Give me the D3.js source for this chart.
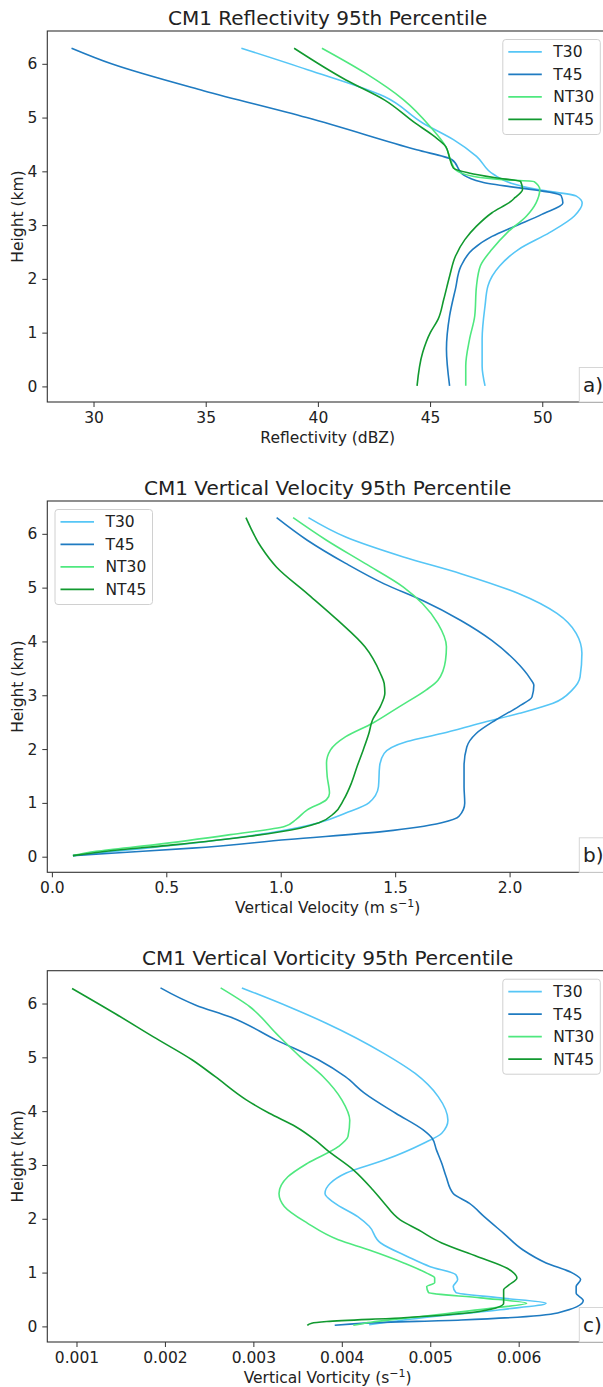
<!DOCTYPE html>
<html><head><meta charset="utf-8">
<script src="https://cdn.jsdelivr.net/npm/d3@7"></script>
<style>body{margin:0;background:#fff}svg{display:block}text{font-family:"DejaVu Sans",sans-serif;fill:#222}</style>
</head><body><div id="chart"></div>
<script>
// ---------- DATA ([height km, value]) ----------
const seriesNames = ["T30","T45","NT30","NT45"];
const seriesColors = ["#56c6f6","#1f7bc1","#4fe87f","#11992f"];

const reflT30 = [[6.29,36.59],[5.89,39.54],[5.39,42.96],[4.90,44.67],[4.59,46.04],[4.28,47.07],[3.94,47.84],[3.78,48.61],[3.66,49.81],[3.54,51.52],[3.41,51.78],[3.17,51.43],[2.86,50.32],[2.55,48.95],[2.24,48.10],[1.87,47.58],[1.50,47.45],[0.88,47.32],[0.38,47.32],[0.01,47.45]];
const reflT45 = [[6.29,29.02],[6.0,30.8],[5.5,34.9],[5.0,39.5],[4.4,44.4],[4.22,45.96],[3.93,46.5],[3.80,47.3],[3.55,50.84],[3.41,50.92],[3.20,49.98],[2.98,48.78],[2.79,47.76],[2.55,46.9],[2.24,46.38],[1.81,46.13],[1.31,45.87],[0.69,45.73],[0.01,45.87]];
const reflNT30 = [[6.29,40.18],[5.83,42.1],[5.33,43.82],[4.83,45.01],[4.46,45.7],[4.16,45.96],[4.03,46.13],[3.91,46.9],[3.85,48.1],[3.81,49.64],[3.66,49.89],[3.41,49.72],[3.17,49.3],[2.86,48.44],[2.55,47.76],[2.24,47.24],[1.87,47.07],[1.31,46.99],[0.88,46.76],[0.38,46.59],[0.01,46.59]];
const reflNT45 = [[6.29,38.94],[5.70,41.25],[5.33,42.96],[4.90,44.33],[4.65,45.19],[4.46,45.7],[4.25,45.87],[4.06,46.04],[3.97,46.73],[3.88,47.92],[3.81,49.04],[3.66,49.12],[3.51,48.78],[3.44,48.6],[3.23,47.76],[2.98,47.07],[2.73,46.55],[2.42,46.13],[2.05,45.87],[1.62,45.61],[1.25,45.36],[1.0,45.01],[0.63,44.67],[0.01,44.42]];

const wT30 = [[6.30,1.121],[5.94,1.284],[5.57,1.536],[5.26,1.787],[4.89,2.039],[4.52,2.207],[4.15,2.291],[3.78,2.316],[3.34,2.308],[3.10,2.274],[2.85,2.19],[2.66,2.039],[2.48,1.872],[2.29,1.703],[2.14,1.552],[1.92,1.452],[1.68,1.432],[1.30,1.427],[1.0,1.385],[0.81,1.284],[0.63,1.167],[0.44,0.948],[0.25,0.613],[0.10,0.277],[0.02,0.092]];
const wT45 = [[6.30,0.982],[5.88,1.116],[5.45,1.284],[5.07,1.452],[4.76,1.62],[4.39,1.787],[4.02,1.922],[3.65,2.023],[3.31,2.09],[3.19,2.106],[2.97,2.098],[2.79,2.039],[2.54,1.939],[2.29,1.854],[2.04,1.813],[1.68,1.801],[1.30,1.801],[1.0,1.804],[0.75,1.779],[0.63,1.703],[0.47,1.452],[0.32,1.032],[0.16,0.613],[0.07,0.277],[0.02,0.092]];
const wNT30 = [[6.30,1.054],[5.88,1.2],[5.45,1.368],[5.01,1.536],[4.70,1.62],[4.33,1.687],[3.90,1.724],[3.65,1.72],[3.28,1.687],[3.10,1.636],[2.79,1.519],[2.48,1.401],[2.23,1.284],[1.98,1.217],[1.74,1.2],[1.49,1.203],[1.18,1.213],[1.06,1.2],[0.87,1.116],[0.69,1.066],[0.56,1.016],[0.41,0.78],[0.22,0.445],[0.10,0.193],[0.02,0.092]];
const wNT45 = [[6.30,0.848],[5.75,0.915],[5.38,0.982],[4.89,1.116],[4.39,1.25],[3.90,1.368],[3.41,1.435],[3.22,1.452],[3.04,1.455],[2.79,1.435],[2.54,1.401],[2.29,1.385],[1.98,1.36],[1.68,1.334],[1.37,1.309],[1.06,1.275],[0.81,1.234],[0.63,1.167],[0.53,1.083],[0.38,0.864],[0.22,0.529],[0.12,0.277],[0.02,0.092]];

const vortT30 = [[6.29,0.00287],[5.94,0.0034],[5.63,0.00383],[5.07,0.00448],[4.70,0.00483],[4.27,0.00509],[3.83,0.0052],[3.59,0.00513],[3.40,0.00492],[3.09,0.00448],[2.85,0.00405],[2.66,0.00387],[2.47,0.00381],[2.29,0.00392],[2.04,0.00418],[1.86,0.00431],[1.55,0.00444],[1.30,0.00474],[1.11,0.005],[0.96,0.00529],[0.87,0.00531],[0.74,0.00526],[0.63,0.00529],[0.53,0.00579],[0.43,0.00631],[0.31,0.00579],[0.12,0.0047],[0.03,0.00431]];
const vortT45 = [[6.29,0.00195],[5.97,0.00235],[5.75,0.00274],[5.32,0.00326],[4.95,0.00374],[4.64,0.00404],[4.33,0.00426],[3.96,0.00461],[3.65,0.00492],[3.50,0.00502],[3.28,0.00507],[3.03,0.00513],[2.78,0.00518],[2.47,0.00526],[2.29,0.00544],[2.04,0.00561],[1.73,0.00583],[1.42,0.00605],[1.18,0.00631],[0.99,0.00661],[0.87,0.0067],[0.74,0.00665],[0.62,0.00665],[0.48,0.00673],[0.25,0.00644],[0.12,0.00535],[0.06,0.00426],[0.02,0.00392]];
const vortNT30 = [[6.29,0.00263],[5.94,0.00296],[5.44,0.00326],[5.01,0.00353],[4.64,0.00379],[4.21,0.004],[3.83,0.00409],[3.53,0.00407],[3.34,0.00396],[3.03,0.00361],[2.78,0.00339],[2.47,0.00329],[2.23,0.00335],[1.92,0.00361],[1.61,0.00396],[1.42,0.00431],[1.18,0.0047],[0.99,0.00496],[0.90,0.00505],[0.81,0.00505],[0.74,0.00496],[0.63,0.00498],[0.53,0.00557],[0.43,0.00609],[0.34,0.0057],[0.19,0.00492],[0.06,0.00426],[0.02,0.00413]];
const vortNT45 = [[6.28,0.00095],[5.81,0.00144],[5.38,0.00187],[4.95,0.00231],[4.64,0.00257],[4.21,0.00292],[3.96,0.00318],[3.71,0.00348],[3.46,0.0037],[3.28,0.00383],[2.91,0.00413],[2.54,0.00435],[2.29,0.00448],[1.98,0.00466],[1.79,0.00487],[1.55,0.00513],[1.30,0.00553],[1.08,0.00587],[0.90,0.00598],[0.77,0.00589],[0.68,0.00583],[0.43,0.00583],[0.28,0.00557],[0.16,0.0047],[0.09,0.00383],[0.06,0.00366],[0.02,0.00361]];

const heightTicks = [0,1,2,3,4,5,6];
const reflTicks = [30,35,40,45,50];
const wTicks = [0.0,0.5,1.0,1.5,2.0];
const vortTicks = [0.001,0.002,0.003,0.004,0.005,0.006];

const titles = ["CM1 Reflectivity 95th Percentile","CM1 Vertical Velocity 95th Percentile","CM1 Vertical Vorticity 95th Percentile"];
const panelLetters = ["a)","b)","c)"];

// ---------- LAYOUT ----------
const W = 603, H = 1387;
const L = 47.3, R = 608;
const panels = [
  {top:31, bottom:402, xdom:[27.94,52.93], ticks:reflTicks, fmt:d3.format("d"), series:[reflT30,reflT45,reflNT30,reflNT45], legend:"right"},
  {top:501, bottom:872.3, xdom:[-0.020,2.43], ticks:wTicks, fmt:d3.format(".1f"), series:[wT30,wT45,wNT30,wNT45], legend:"left"},
  {top:970.7, bottom:1342, xdom:[0.00067,0.00701], ticks:vortTicks, fmt:d3.format(".3f"), series:[vortT30,vortT45,vortNT30,vortNT45], legend:"right"}
];
const FS = 15.5;

const svg = d3.select("#chart").append("svg").attr("width",W).attr("height",H);
svg.append("rect").attr("width",W).attr("height",H).attr("fill","#fff");

panels.forEach((p,i)=>{
  const g = svg.append("g");
  const x = d3.scaleLinear().domain(p.xdom).range([L,R]);
  const y = d3.scaleLinear().domain([-0.29,6.61]).range([p.bottom,p.top]);
  const clipId = "clip"+i;
  svg.append("clipPath").attr("id",clipId).append("rect").attr("x",L).attr("y",p.top).attr("width",R-L).attr("height",p.bottom-p.top);

  // lines
  const line = d3.line().x(d=>x(d[1])).y(d=>y(d[0])).curve(d3.curveMonotoneY);
  const lg = g.append("g").attr("clip-path",`url(#${clipId})`);
  p.series.forEach((s,k)=>{
    lg.append("path").attr("d",line(s)).attr("fill","none").attr("stroke",seriesColors[k]).attr("stroke-width",1.6).attr("stroke-linejoin","round");
  });

  // axes
  const xa = d3.axisBottom(x).tickValues(p.ticks).tickFormat(p.fmt).tickSize(5).tickPadding(5);
  const ya = d3.axisLeft(y).tickValues(heightTicks).tickFormat(d3.format("d")).tickSize(5).tickPadding(5);
  const gx = g.append("g").attr("transform",`translate(0,${p.bottom})`).call(xa);
  const gy = g.append("g").attr("transform",`translate(${L},0)`).call(ya);
  [gx,gy].forEach(a=>{
    a.select(".domain").remove();
    a.selectAll(".tick line").attr("stroke","#333").attr("stroke-width",1);
    a.selectAll(".tick text").style("font-family","DejaVu Sans").style("font-size",FS+"px").attr("fill","#222");
  });
  // spines
  g.append("rect").attr("x",L).attr("y",p.top).attr("width",R-L).attr("height",p.bottom-p.top)
    .attr("fill","none").attr("stroke","#333").attr("stroke-width",1.1);

  // title
  g.append("text").attr("x",(L+R)/2).attr("y",p.top-6).attr("text-anchor","middle").style("font-size","20px").text(titles[i]);
  // y label
  g.append("text").attr("transform",`translate(23,${(p.top+p.bottom)/2}) rotate(-90)`).attr("text-anchor","middle").style("font-size",FS+"px").text("Height (km)");
  // x label
  const xl = g.append("text").attr("x",(L+R)/2).attr("y",p.bottom+41).attr("text-anchor","middle").style("font-size",FS+"px");
  if(i===0) xl.text("Reflectivity (dBZ)");
  else {
    xl.append("tspan").text(i===1?"Vertical Velocity (m s":"Vertical Vorticity (s");
    xl.append("tspan").attr("dy",-6).style("font-size","11px").text("\u22121");
    xl.append("tspan").attr("dy",6).text(")");
  }

  // legend
  const lx = p.legend==="right" ? R-7.7-97.5 : L+7.7;
  const ly = p.top+8.5;
  const leg = g.append("g").attr("transform",`translate(${lx},${ly})`);
  leg.append("rect").attr("width",97.5).attr("height",95).attr("rx",3).attr("fill","#fff").attr("fill-opacity",0.85).attr("stroke","#d0d0d0").attr("stroke-width",1);
  seriesNames.forEach((n,k)=>{
    const yy = 12.4 + k*22.5;
    leg.append("line").attr("x1",5.5).attr("x2",39).attr("y1",yy).attr("y2",yy).attr("stroke",seriesColors[k]).attr("stroke-width",1.8);
    leg.append("text").attr("x",50.5).attr("y",yy).attr("dy","0.36em").style("font-size",FS+"px").text(n);
  });

  // panel letter box
  g.append("rect").attr("x",579.3).attr("y",p.bottom-34.5).attr("width",40).attr("height",34.5).attr("fill","#fff").attr("stroke","#d6d6d6").attr("stroke-width",1);
  g.append("text").attr("x",583).attr("y",p.bottom-10).style("font-size","20px").text(panelLetters[i]);
});
</script></body></html>
